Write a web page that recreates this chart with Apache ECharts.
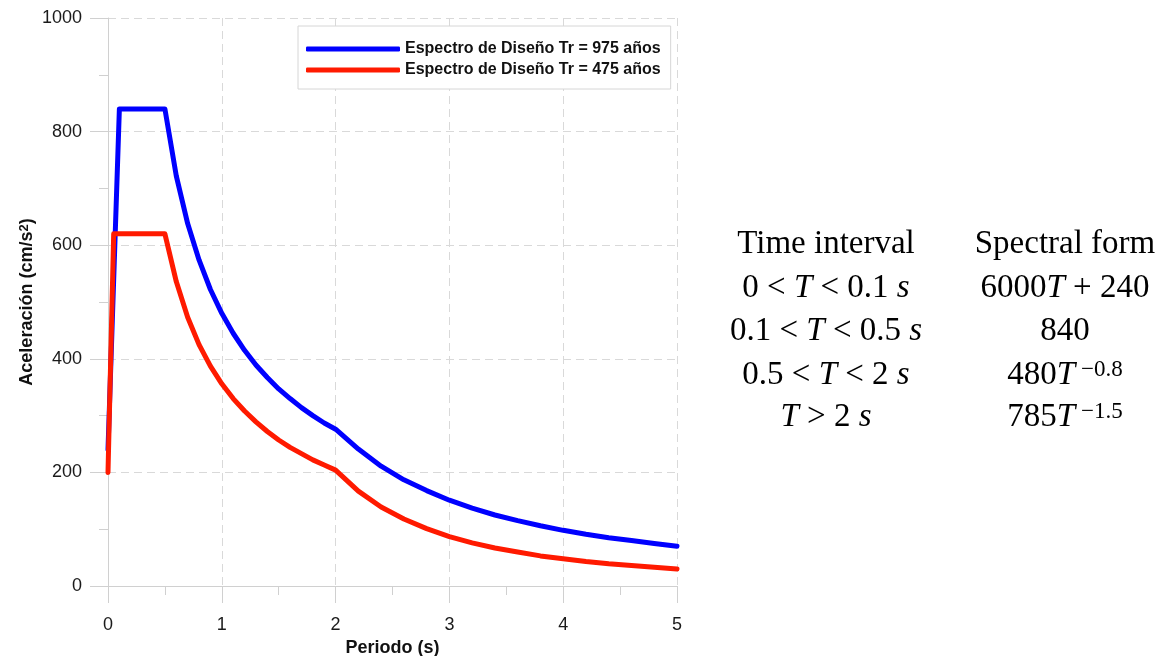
<!DOCTYPE html>
<html>
<head>
<meta charset="utf-8">
<script src="https://cdn.jsdelivr.net/npm/echarts@6/dist/echarts.min.js"></script>
<style>
  html, body { margin: 0; padding: 0; background: #fff; }
  #chart { width: 1162px; height: 656px; }
</style>
</head>
<body>
<div id="chart"></div>
<script>
// ---- Data ----
const seriesNames = ['Espectro de Diseño Tr = 975 años', 'Espectro de Diseño Tr = 475 años'];

const periods975 = [0, 0.1, 0.5, 0.6, 0.7, 0.8, 0.9, 1.0, 1.1, 1.2, 1.3, 1.4, 1.5, 1.6, 1.7, 1.8, 1.9, 2.0,
  2.2, 2.4, 2.6, 2.8, 3.0, 3.2, 3.4, 3.6, 3.8, 4.0, 4.2, 4.4, 4.6, 4.8, 5.0];
const accel975 = [240, 840, 840, 722, 638, 574, 522, 480, 445, 415, 389, 367, 347, 330, 314, 300, 287, 276,
  241, 211, 187, 168, 151, 137, 125, 115, 106, 98, 91, 85, 80, 75, 70];

const periods475 = [0, 0.05, 0.5, 0.6, 0.7, 0.8, 0.9, 1.0, 1.1, 1.2, 1.3, 1.4, 1.5, 1.6, 1.7, 1.8, 1.9, 2.0,
  2.2, 2.4, 2.6, 2.8, 3.0, 3.2, 3.4, 3.6, 3.8, 4.0, 4.2, 4.4, 4.6, 4.8, 5.0];
const accel475 = [200, 620, 620, 536, 473, 425, 387, 356, 330, 308, 289, 272, 257, 244, 233, 222, 213, 204,
  167, 139, 118, 101, 87, 76, 67, 60, 53, 48, 43, 39, 36, 33, 30];

const xTicks = { min: 0, max: 5, interval: 1 };
const yTicks = { min: 0, max: 1000, interval: 200 };

// Table text on the right
const tableHeaders = ['Time interval', 'Spectral form'];
const tableIntervals = [
  '{n|0 < }{i|T}{n| < 0.1 }{i|s}',
  '{n|0.1 < }{i|T}{n| < 0.5 }{i|s}',
  '{n|0.5 < }{i|T}{n| < 2 }{i|s}',
  '{i|T}{n| > 2 }{i|s}'
];
const tableForms = [
  '{n|6000}{i|T}{n| + 240}',
  '{n|840}',
  '{n|480}{i|T}{sup| −0.8}',
  '{n|785}{i|T}{sup| −1.5}'
];

function zip(xs, ys) { return xs.map((x, i) => [x, ys[i]]); }

const axisGray = '#d0d0d0';
const gridGray = '#d9d9d9';
const sans = 'Liberation Sans, Arial, sans-serif';
const serif = 'Liberation Serif, Times New Roman, serif';

const richSerif = {
  n: { fontFamily: serif, fontSize: 33, fill: '#000' },
  i: { fontFamily: serif, fontSize: 33, fontStyle: 'italic', fill: '#000' },
  h: { fontFamily: serif, fontSize: 33, fill: '#000' },
  sup: { fontFamily: serif, fontSize: 23, fill: '#000', verticalAlign: 'top' }
};

const col1X = 826, col2X = 1065;
const rowY = [244, 288, 331, 375, 417];

const graphics = [];
graphics.push({ type: 'text', x: col1X, y: rowY[0], style: { text: '{h|' + tableHeaders[0] + '}', rich: richSerif, align: 'center', verticalAlign: 'middle' } });
graphics.push({ type: 'text', x: col2X, y: rowY[0], style: { text: '{h|' + tableHeaders[1] + '}', rich: richSerif, align: 'center', verticalAlign: 'middle' } });
tableIntervals.forEach((t, k) => {
  graphics.push({ type: 'text', x: col1X, y: rowY[k + 1], style: { text: t, rich: richSerif, align: 'center', verticalAlign: 'middle' } });
});
tableForms.forEach((t, k) => {
  graphics.push({ type: 'text', x: col2X, y: rowY[k + 1], style: { text: t, rich: richSerif, align: 'center', verticalAlign: 'middle' } });
});

const chart = echarts.init(document.getElementById('chart'), null, { renderer: 'canvas' });
chart.setOption({
  animation: false,
  backgroundColor: '#fff',
  grid: { left: 108, right: 485, top: 18, bottom: 70, containLabel: false, outerBoundsMode: 'none' },
  legend: {
    orient: 'vertical',
    left: 298,
    top: 26,
    padding: [15, 10, 11, 8],
    itemGap: 5,
    itemWidth: 94,
    itemHeight: 5,
    icon: 'roundRect',
    backgroundColor: '#fff',
    borderColor: '#d6d6d6',
    borderWidth: 1,
    itemTextGap: 8,
    textStyle: { fontFamily: sans, fontSize: 16, fontWeight: 'bold', color: '#111' },
    data: seriesNames
  },
  xAxis: {
    type: 'value',
    min: xTicks.min, max: xTicks.max, interval: xTicks.interval,
    axisLine: { show: true, onZero: false, lineStyle: { color: axisGray, width: 1 } },
    axisTick: { show: true, length: 17, lineStyle: { color: axisGray } },
    minorTick: { show: true, splitNumber: 2, length: 9, lineStyle: { color: axisGray } },
    splitLine: { show: true, lineStyle: { color: gridGray, type: [8, 5], width: 1 } },
    axisLabel: { fontFamily: sans, fontSize: 18, color: '#1a1a1a', margin: 30 },
    name: 'Periodo (s)',
    nameLocation: 'middle',
    nameGap: 48,
    nameTextStyle: { fontFamily: sans, fontSize: 18, fontWeight: 'bold', color: '#111' }
  },
  yAxis: {
    type: 'value',
    min: yTicks.min, max: yTicks.max, interval: yTicks.interval,
    axisLine: { show: true, onZero: false, lineStyle: { color: axisGray, width: 1 } },
    axisTick: { show: true, length: 18, lineStyle: { color: axisGray } },
    minorTick: { show: true, splitNumber: 2, length: 9, lineStyle: { color: axisGray } },
    splitLine: { show: true, lineStyle: { color: gridGray, type: [8, 5], width: 1 } },
    axisLabel: { fontFamily: sans, fontSize: 18, color: '#1a1a1a', margin: 26, formatter: (v) => String(v) },
    name: '{m|Aceleración (cm/s}{sup|2}{m|)}',
    nameLocation: 'middle',
    nameRotate: 90,
    nameGap: 72,
    nameTextStyle: {
      fontFamily: sans, fontSize: 18, fontWeight: 'bold', color: '#111',
      rich: {
        m: { fontFamily: sans, fontSize: 18, fontWeight: 'bold', color: '#111' },
        sup: { fontFamily: sans, fontSize: 13, fontWeight: 'bold', color: '#111', verticalAlign: 'top' }
      }
    }
  },
  series: [
    {
      name: seriesNames[0], type: 'line', symbol: 'none', smooth: false,
      data: zip(periods975, accel975),
      lineStyle: { color: '#0000ff', width: 5, cap: 'round', join: 'round' },
      itemStyle: { color: '#0000ff' }
    },
    {
      name: seriesNames[1], type: 'line', symbol: 'none', smooth: false,
      data: zip(periods475, accel475),
      lineStyle: { color: '#ff1a00', width: 5, cap: 'round', join: 'round' },
      itemStyle: { color: '#ff1a00' }
    }
  ],
  graphic: graphics
});
</script>
</body>
</html>
